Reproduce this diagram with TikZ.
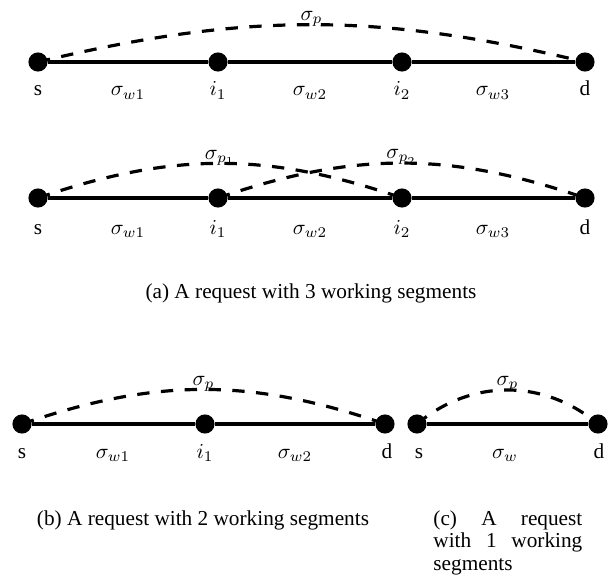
\documentclass[tikz,border=0pt]{standalone}
\usepackage{fontspec}
\setmainfont{Liberation Serif}
\usetikzlibrary{positioning}

\begin{document}
\begin{tikzpicture}[x=0.47pt,y=0.47pt,
  dot/.style={circle,fill=black,inner sep=0pt,minimum size=9pt},
  seg/.style={line width=1.5pt},
  prot/.style={line width=1.5pt,dash pattern=on 5.8pt off 5.4pt},
  lbl/.style={anchor=base,inner sep=0pt,font=\fontsize{10}{12}\selectfont},
  subcap/.style={anchor=base,inner sep=0pt,font=\fontsize{10}{10.8}\selectfont}]
\useasboundingbox (0,0) rectangle (616,-581);
% (a) upper: one protection path
\node[dot] (sA) at (38,-62) {};
\node[dot] (iA) at (218,-62) {};
\node[dot] (jA) at (402,-62) {};
\node[dot] (dA) at (585,-62) {};
\draw[seg] (sA) -- (iA) -- (jA) -- (dA);
\draw[prot] (sA.center) to[bend left=13.5] node[lbl,yshift=2pt] (pA) {$\sigma_p$} (dA.center);
\node[lbl] (tsA) at (38,-96) {s};
\node[lbl] (wA1) at (128,-96) {$\sigma_{w1}$};
\node[lbl] (tiA) at (218,-96) {$i_1$};
\node[lbl] (wA2) at (310,-96) {$\sigma_{w2}$};
\node[lbl] (tjA) at (402,-96) {$i_2$};
\node[lbl] (wA3) at (493,-96) {$\sigma_{w3}$};
\node[lbl] (tdA) at (585,-96) {d};
% (a) lower: two protection paths
\node[dot] (sB) at (38,-198) {};
\node[dot] (iB) at (218,-198) {};
\node[dot] (jB) at (402,-198) {};
\node[dot] (dB) at (585,-198) {};
\draw[seg] (sB) -- (iB) -- (jB) -- (dB);
\draw[prot] (sB.center) to[bend left=19] node[lbl,yshift=2pt] (pB1) {$\sigma_{p_1}$} (jB.center);
\draw[prot] (iB.center) to[bend left=19] node[lbl,yshift=2pt] (pB2) {$\sigma_{p_2}$} (dB.center);
\node[lbl] (tsB) at (38,-234) {s};
\node[lbl] (wB1) at (128,-234) {$\sigma_{w1}$};
\node[lbl] (tiB) at (218,-234) {$i_1$};
\node[lbl] (wB2) at (310,-234) {$\sigma_{w2}$};
\node[lbl] (tjB) at (402,-234) {$i_2$};
\node[lbl] (wB3) at (493,-234) {$\sigma_{w3}$};
\node[lbl] (tdB) at (585,-234) {d};
\node[subcap] (capA) at (311,-298) {(a) A request with 3 working segments};
% (b) two working segments
\node[dot] (sC) at (22,-424) {};
\node[dot] (iC) at (205,-424) {};
\node[dot] (dC) at (385,-424) {};
\draw[seg] (sC) -- (iC) -- (dC);
\draw[prot] (sC.center) to[bend left=19] node[lbl,yshift=2pt] (pC) {$\sigma_p$} (dC.center);
\node[lbl] (tsC) at (22,-458) {s};
\node[lbl] (wC1) at (113,-458) {$\sigma_{w1}$};
\node[lbl] (tiC) at (205,-458) {$i_1$};
\node[lbl] (wC2) at (295,-458) {$\sigma_{w2}$};
\node[lbl] (tdC) at (387,-458) {d};
\node[subcap] (capB) at (203,-525) {(b) A request with 2 working segments};
% (c) one working segment
\node[dot] (sD) at (417,-424) {};
\node[dot] (dD) at (598,-424) {};
\draw[seg] (sD) -- (dD);
\draw[prot] (sD.center) to[bend left=40] node[lbl,yshift=2pt] (pD) {$\sigma_p$} (dD.center);
\node[lbl] (tsD) at (419,-458) {s};
\node[lbl] (wD) at (505,-458) {$\sigma_w$};
\node[lbl] (tdD) at (599,-458) {d};
\node[subcap,anchor=base west,text width=70pt,align=left] (capC) at (433,-525)
  {(c)\hfill A\hfill request\\ with\hfill 1\hfill working\\ segments};
\end{tikzpicture}
\end{document}
